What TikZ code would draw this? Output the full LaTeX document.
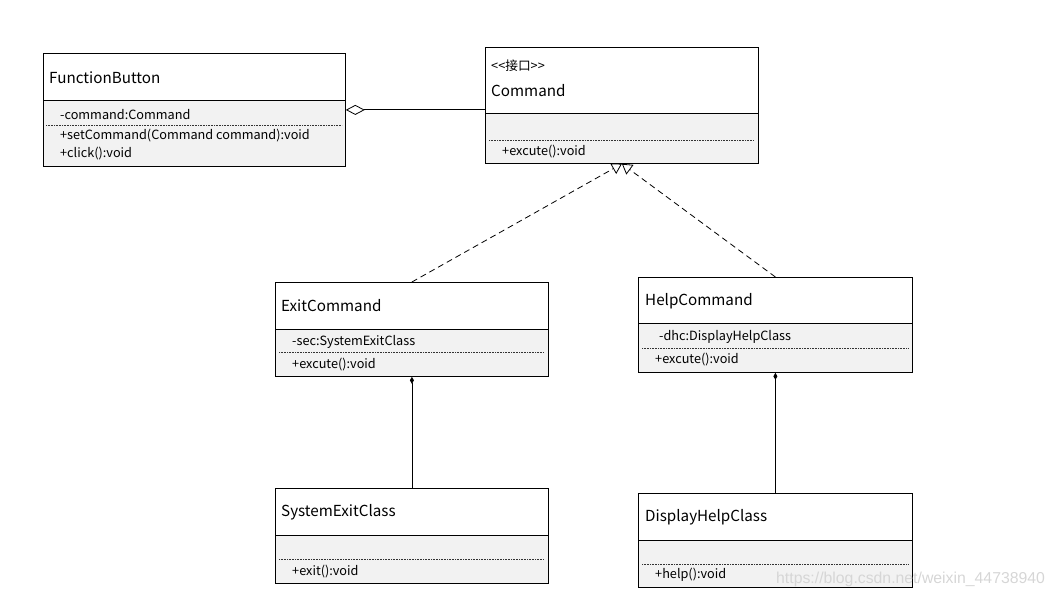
\documentclass[tikz,border=0pt]{standalone}
\usepackage{fontspec}
\setmainfont{Noto Sans CJK SC}
\newfontfamily\wmfont{Liberation Sans}
\usetikzlibrary{arrows.meta}
\definecolor{bodygray}{HTML}{F2F2F2}
\tikzset{
  classbox/.style={draw=black, line width=0.8pt, anchor=north west, inner sep=0pt},
  hdrbox/.style={draw=black, line width=0.8pt, fill=white},
  bodybox/.style={draw=black, line width=0.8pt, fill=bodygray},
  sepline/.style={line width=0.5pt, dash pattern=on 0.8pt off 0.8pt, black!80},
  ttl/.style={anchor=west, inner sep=0pt, yshift=-1.5pt, font=\fontsize{15.2}{17}\selectfont},
  mbr/.style={anchor=west, inner sep=0pt, yshift=-1.2pt, font=\fontsize{12.7}{14}\selectfont},
  conn/.style={line width=0.8pt, black},
  realize/.style={conn, dashed, dash pattern=on 6pt off 4pt, -{Triangle[open, length=10pt, width=12pt]}},
  aggr/.style={conn, {Diamond[open, length=19pt, width=10pt]}-},
  compo/.style={conn, {Diamond[length=7pt, width=4pt]}-},
}
\begin{document}
\begin{tikzpicture}[x=1pt,y=-1pt]
\useasboundingbox (0,0) rectangle (1057,599);
% FunctionButton
\draw[hdrbox] (43,53) rectangle (345,100);
\draw[bodybox] (43,100) rectangle (345,166);
\draw[sepline] (46,125) -- (342,125);
\node[classbox, minimum width=302pt, minimum height=113pt] (fb) at (43,53) {};
\node[ttl] (fbt) at (49,76) {FunctionButton};
\node[mbr] (fbm1) at (60,113) {-command:Command};
\node[mbr] (fbm2) at (60,134) {+setCommand(Command command):void};
\node[mbr] (fbm3) at (60,152) {+click():void};
% Command
\draw[hdrbox] (485,47) rectangle (758,113);
\draw[bodybox] (485,113) rectangle (758,163);
\draw[sepline] (489,140) -- (754,140);
\node[classbox, minimum width=273pt, minimum height=116pt] (cmd) at (485,47) {};
\node[mbr] (cmds) at (491,64) {<{}<{}接口>{}>};
\node[ttl] (cmdt) at (491,89) {Command};
\node[mbr] (cmdm1) at (502,150) {+excute():void};
% ExitCommand
\draw[hdrbox] (275,282) rectangle (548,329);
\draw[bodybox] (275,329) rectangle (548,376);
\draw[sepline] (279,352) -- (544,352);
\node[classbox, minimum width=273pt, minimum height=94pt] (ex) at (275,282) {};
\node[ttl] (ext) at (281,304) {ExitCommand};
\node[mbr] (exm1) at (292,341) {-sec:SystemExitClass};
\node[mbr] (exm2) at (292,363) {+excute():void};
% HelpCommand
\draw[hdrbox] (638,277) rectangle (912,323);
\draw[bodybox] (638,323) rectangle (912,372);
\draw[sepline] (642,348) -- (908,348);
\node[classbox, minimum width=274pt, minimum height=95pt] (hc) at (638,277) {};
\node[ttl] (hct) at (645,300) {HelpCommand};
\node[mbr] (hcm1) at (659,336) {-dhc:DisplayHelpClass};
\node[mbr] (hcm2) at (655,358) {+excute():void};
% SystemExitClass
\draw[hdrbox] (275,488) rectangle (548,535);
\draw[bodybox] (275,535) rectangle (548,583);
\draw[sepline] (279,559) -- (544,559);
\node[classbox, minimum width=273pt, minimum height=95pt] (se) at (275,488) {};
\node[ttl] (set) at (281,511) {SystemExitClass};
\node[mbr] (sem1) at (292,570) {+exit():void};
% DisplayHelpClass
\draw[hdrbox] (638,493) rectangle (912,540);
\draw[bodybox] (638,540) rectangle (912,587);
\draw[sepline] (642,564) -- (908,564);
\node[classbox, minimum width=274pt, minimum height=94pt] (dh) at (638,493) {};
\node[ttl] (dht) at (645,516) {DisplayHelpClass};
\node[mbr] (dhm1) at (655,574) {+help():void};
% connectors
\draw[aggr] (fb.east) -- (fb.east -| cmd.west);
\draw[realize] (ex.north) -- (cmd.south);
\draw[realize] (hc.north) -- (cmd.south);
\draw[compo] (ex.south) -- (se.north);
\draw[compo] (hc.south) -- (dh.north);
% watermark
\node[anchor=west, inner sep=0pt, text=black!16, font=\wmfont\fontsize{15.8}{17}\selectfont] (wm) at (776,579) {https://blog.csdn.net/weixin\_44738940};
\end{tikzpicture}
\end{document}
